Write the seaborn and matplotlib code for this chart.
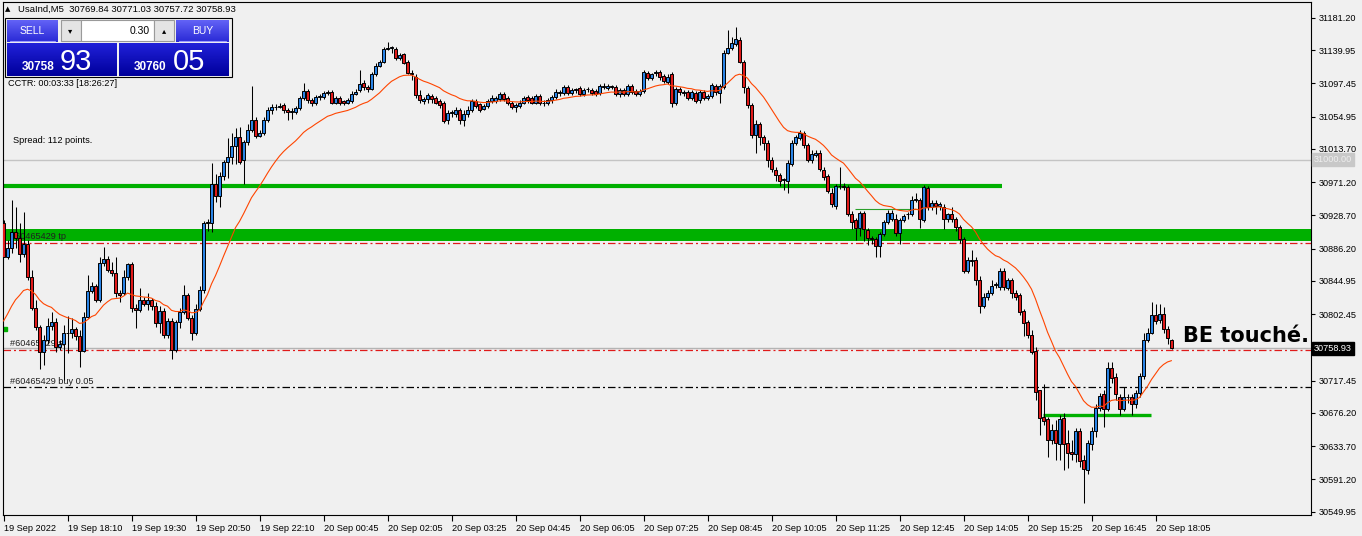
import numpy as np
import pandas as pd
import matplotlib
matplotlib.use("Agg")
import matplotlib.pyplot as plt
import matplotlib.transforms as mtransforms
from matplotlib.patches import Rectangle
from matplotlib.colors import LinearSegmentedColormap
import seaborn as sns

# ---------------- data (UsaInd, M5) ----------------
opens = [
    30919, 30876, 30887, 30907, 30900, 30880, 30892, 30850, 30811, 30786,
    30754, 30770, 30787, 30792, 30761, 30764, 30778, 30778, 30783, 30774,
    30756, 30799, 30832, 30838, 30821, 30868, 30873, 30859, 30855, 30829,
    30829, 30850, 30867, 30811, 30808, 30820, 30816, 30821, 30813, 30791,
    30807, 30776, 30794, 30757, 30792, 30805, 30827, 30798, 30779, 30809,
    30833, 30919, 30919, 30969, 30953, 30979, 30997, 31004, 31017, 31029,
    31000, 31022, 31038, 31051, 31030, 31034, 31051, 31064, 31067, 31067,
    31070, 31064, 31061, 31061, 31066, 31079, 31088, 31076, 31072, 31080,
    31080, 31085, 31086, 31073, 31079, 31075, 31072, 31075, 31084, 31089,
    31098, 31093, 31090, 31110, 31120, 31125, 31141, 31143, 31141, 31130,
    31135, 31125, 31111, 31106, 31083, 31075, 31077, 31081, 31079, 31075,
    31072, 31051, 31060, 31058, 31064, 31051, 31058, 31064, 31075, 31071,
    31065, 31068, 31075, 31075, 31077, 31084, 31079, 31072, 31067, 31068,
    31073, 31080, 31079, 31073, 31081, 31072, 31072, 31076, 31080, 31085,
    31085, 31093, 31085, 31089, 31092, 31084, 31090, 31089, 31088, 31085,
    31093, 31092, 31093, 31093, 31084, 31089, 31084, 31094, 31088, 31084,
    31088, 31111, 31105, 31111, 31112, 31107, 31099, 31110, 31072, 31090,
    31085, 31086, 31079, 31085, 31076, 31086, 31079, 31081, 31094, 31085,
    31093, 31137, 31143, 31148, 31153, 31125, 31092, 31070, 31032, 31046,
    31029, 31021, 31000, 30987, 30981, 30974, 30973, 30995, 31021, 31028,
    31034, 31019, 31000, 31006, 31008, 30987, 30979, 30958, 30941, 30966,
    30966, 30965, 30931, 30923, 30913, 30932, 30910, 30900, 30898, 30889,
    30905, 30920, 30924, 30924, 30906, 30923, 30930, 30931, 30949, 30949,
    30923, 30964, 30940, 30945, 30941, 30940, 30924, 30930, 30924, 30914,
    30898, 30858, 30871, 30872, 30846, 30813, 30824, 30829, 30840, 30837,
    30858, 30836, 30846, 30829, 30827, 30807, 30792, 30776, 30756, 30705,
    30671, 30668, 30642, 30655, 30636, 30670, 30638, 30626, 30624, 30653,
    30616, 30603, 30637, 30653, 30683, 30700, 30681, 30734, 30722, 30697,
    30681, 30696, 30696, 30687, 30702, 30723, 30770, 30779, 30802, 30795,
    30803, 30783, 30769.84,
]
highs = [
    30923, 30897, 30949, 30940, 30919, 30933, 30897, 30859, 30821, 30789,
    30776, 30798, 30805, 30798, 30770, 30789, 30800, 30798, 30786, 30782,
    30805, 30853, 30843, 30841, 30875, 30888, 30877, 30869, 30875, 30833,
    30859, 30868, 30869, 30815, 30836, 30825, 30830, 30823, 30818, 30813,
    30811, 30798, 30798, 30795, 30811, 30840, 30830, 30802, 30815, 30838,
    30922, 30924, 30996, 30982, 30984, 31000, 31028, 31034, 31041, 31042,
    31025, 31045, 31094, 31054, 31038, 31054, 31067, 31071, 31071, 31072,
    31072, 31066, 31066, 31068, 31081, 31098, 31090, 31079, 31083, 31084,
    31088, 31089, 31089, 31081, 31081, 31076, 31079, 31088, 31090, 31115,
    31102, 31096, 31112, 31123, 31128, 31144, 31150, 31145, 31144, 31136,
    31137, 31128, 31115, 31109, 31089, 31080, 31085, 31084, 31081, 31077,
    31075, 31064, 31064, 31067, 31066, 31064, 31068, 31077, 31077, 31073,
    31071, 31077, 31083, 31081, 31086, 31086, 31081, 31075, 31072, 31076,
    31081, 31083, 31081, 31084, 31084, 31076, 31079, 31083, 31090, 31089,
    31096, 31096, 31092, 31092, 31094, 31092, 31093, 31092, 31090, 31097,
    31098, 31097, 31096, 31096, 31092, 31092, 31097, 31097, 31090, 31090,
    31115, 31114, 31111, 31115, 31115, 31110, 31109, 31112, 31093, 31093,
    31089, 31089, 31089, 31088, 31089, 31089, 31084, 31098, 31097, 31097,
    31140, 31166, 31157, 31170, 31157, 31128, 31094, 31072, 31051, 31048,
    31032, 31025, 31003, 30990, 30983, 30977, 31000, 31025, 31032, 31038,
    31037, 31021, 31012, 31012, 31012, 30990, 30982, 30964, 30969, 30991,
    30970, 30968, 30935, 30926, 30935, 30935, 30913, 30902, 30901, 30907,
    30923, 30936, 30936, 30931, 30926, 30931, 30933, 30953, 30957, 30951,
    30968, 30966, 30948, 30948, 30946, 30943, 30932, 30939, 30927, 30917,
    30901, 30875, 30885, 30875, 30851, 30829, 30833, 30846, 30843, 30862,
    30862, 30849, 30849, 30834, 30829, 30809, 30795, 30782, 30761, 30706,
    30713, 30671, 30662, 30667, 30674, 30676, 30654, 30642, 30657, 30657,
    30623, 30642, 30658, 30687, 30702, 30706, 30741, 30741, 30727, 30700,
    30709, 30700, 30701, 30706, 30727, 30778, 30785, 30818, 30815, 30816,
    30812, 30787, 30771.03,
]
lows = [
    30875, 30873, 30881, 30887, 30869, 30875, 30846, 30808, 30782, 30732,
    30738, 30764, 30782, 30754, 30757, 30718, 30753, 30772, 30770, 30735,
    30754, 30798, 30829, 30818, 30818, 30864, 30856, 30851, 30825, 30818,
    30827, 30846, 30805, 30785, 30805, 30813, 30808, 30808, 30786, 30779,
    30772, 30772, 30745, 30754, 30785, 30803, 30795, 30770, 30776, 30807,
    30830, 30909, 30907, 30946, 30940, 30974, 30977, 30994, 30994, 30994,
    30969, 31019, 31035, 31028, 31029, 31032, 31048, 31058, 31064, 31066,
    31060, 31051, 31052, 31059, 31064, 31076, 31073, 31068, 31070, 31076,
    31077, 31083, 31071, 31071, 31070, 31070, 31071, 31073, 31083, 31086,
    31089, 31086, 31089, 31107, 31118, 31123, 31140, 31137, 31128, 31128,
    31122, 31109, 31102, 31079, 31072, 31071, 31073, 31073, 31071, 31066,
    31047, 31046, 31054, 31054, 31046, 31043, 31055, 31061, 31066, 31061,
    31063, 31066, 31072, 31072, 31075, 31075, 31070, 31065, 31061, 31066,
    31071, 31073, 31071, 31071, 31070, 31068, 31070, 31073, 31077, 31081,
    31083, 31083, 31083, 31085, 31081, 31081, 31086, 31083, 31081, 31083,
    31090, 31089, 31090, 31081, 31080, 31081, 31081, 31084, 31081, 31081,
    31085, 31102, 31102, 31107, 31102, 31098, 31097, 31067, 31070, 31083,
    31081, 31076, 31076, 31072, 31073, 31076, 31076, 31079, 31083, 31073,
    31090, 31135, 31140, 31145, 31123, 31085, 31066, 31028, 31009, 31019,
    31012, 30990, 30984, 30973, 30966, 30961, 30958, 30992, 31019, 31025,
    31015, 30997, 30996, 31003, 30986, 30974, 30957, 30940, 30937, 30962,
    30961, 30928, 30911, 30897, 30902, 30896, 30891, 30892, 30875, 30875,
    30902, 30918, 30922, 30902, 30892, 30920, 30924, 30928, 30946, 30913,
    30920, 30936, 30936, 30931, 30936, 30911, 30920, 30920, 30909, 30894,
    30855, 30855, 30864, 30840, 30804, 30811, 30821, 30827, 30836, 30834,
    30833, 30833, 30823, 30821, 30802, 30774, 30772, 30751, 30693, 30648,
    30661, 30620, 30636, 30616, 30616, 30603, 30606, 30616, 30613, 30607,
    30561, 30598, 30629, 30646, 30679, 30658, 30679, 30714, 30693, 30674,
    30679, 30689, 30674, 30683, 30697, 30719, 30767, 30777, 30790, 30791,
    30779, 30764, 30757.72,
]
closes = [
    30876, 30887, 30907, 30900, 30880, 30892, 30850, 30811, 30786, 30754,
    30770, 30787, 30792, 30761, 30764, 30778, 30778, 30783, 30774, 30756,
    30799, 30832, 30838, 30821, 30868, 30873, 30859, 30855, 30829, 30827,
    30850, 30867, 30811, 30808, 30820, 30816, 30821, 30813, 30791, 30807,
    30776, 30794, 30757, 30792, 30805, 30827, 30798, 30779, 30809, 30833,
    30919, 30919, 30969, 30953, 30979, 30997, 31004, 31017, 31029, 30997,
    31022, 31038, 31051, 31030, 31034, 31051, 31064, 31067, 31067, 31068,
    31064, 31061, 31061, 31066, 31079, 31088, 31076, 31072, 31080, 31080,
    31085, 31086, 31073, 31079, 31072, 31072, 31076, 31084, 31086, 31097,
    31093, 31090, 31110, 31120, 31125, 31141, 31143, 31143, 31130, 31134,
    31124, 31111, 31109, 31083, 31076, 31077, 31083, 31077, 31073, 31070,
    31050, 31060, 31060, 31064, 31051, 31059, 31064, 31075, 31068, 31064,
    31068, 31075, 31079, 31079, 31084, 31077, 31072, 31067, 31070, 31073,
    31079, 31076, 31073, 31081, 31072, 31072, 31076, 31080, 31086, 31085,
    31093, 31085, 31089, 31089, 31084, 31089, 31090, 31085, 31084, 31094,
    31093, 31094, 31093, 31084, 31089, 31084, 31094, 31086, 31084, 31088,
    31112, 31105, 31109, 31111, 31106, 31101, 31106, 31072, 31090, 31086,
    31085, 31079, 31086, 31075, 31086, 31079, 31081, 31096, 31086, 31094,
    31137, 31143, 31149, 31154, 31125, 31093, 31070, 31032, 31046, 31029,
    31021, 31000, 30988, 30981, 30973, 30974, 30996, 31021, 31029, 31034,
    31019, 31000, 31007, 31008, 30988, 30978, 30960, 30943, 30966, 30966,
    30965, 30931, 30920, 30913, 30932, 30911, 30900, 30898, 30889, 30905,
    30920, 30932, 30932, 30906, 30923, 30928, 30930, 30949, 30949, 30924,
    30965, 30939, 30945, 30941, 30943, 30924, 30930, 30924, 30914, 30898,
    30858, 30872, 30871, 30846, 30813, 30825, 30829, 30838, 30840, 30858,
    30837, 30846, 30829, 30825, 30805, 30791, 30776, 30754, 30703, 30670,
    30666, 30642, 30655, 30638, 30668, 30637, 30625, 30624, 30653, 30615,
    30604, 30638, 30653, 30683, 30698, 30681, 30734, 30721, 30700, 30681,
    30697, 30696, 30687, 30702, 30723, 30770, 30779, 30802, 30794, 30803,
    30783, 30772, 30758.93,
]
time_labels = [
    "19 Sep 2022", "19 Sep 18:10", "19 Sep 19:30", "19 Sep 20:50", "19 Sep 22:10",
    "20 Sep 00:45", "20 Sep 02:05", "20 Sep 03:25", "20 Sep 04:45", "20 Sep 06:05",
    "20 Sep 07:25", "20 Sep 08:45", "20 Sep 10:05", "20 Sep 11:25", "20 Sep 12:45",
    "20 Sep 14:05", "20 Sep 15:25", "20 Sep 16:45", "20 Sep 18:05",
]
price_ticks = [31181.20, 31139.95, 31097.45, 31054.95, 31013.70, 30971.20, 30928.70,
               30886.20, 30844.95, 30802.45, 30717.45, 30676.20, 30633.70, 30591.20,
               30549.95]
price_tick_labels = ["31181.20", "31139.95", "31097.45", "31054.95", "31013.70",
                     "30971.20", "30928.70", "30886.20", "30844.95", "30802.45",
                     "30717.45", "30676.20", "30633.70", "30591.20", "30549.95"]

bid_price = 30758.93
round_level = 31000.00
ma_period = 20
ma_seed = 30785.0
resistance_level = 30966
resistance_end_bar = 249.6
zone_low, zone_high = 30896, 30911
tp_level = 30894
sl_level = 30758
entry_level = 30709
support_level = 30673
support_bars = (259.9, 286.8)
mid_level = 30937
mid_bars = (212.9, 228.6)
marker_level = 30783

# ---------------- style ----------------
sns.set_theme(style="white")
plt.rcParams["font.family"] = ["Liberation Sans", "DejaVu Sans"]
BG = "#f0f0f0"
GREEN = "#00b000"
RED = "#e01a1a"
BLUE = "#2a84e6"
SMALL = 6.6

W, H = 1362, 536
fig = plt.figure(figsize=(W / 100, H / 100), dpi=100, facecolor=BG)
ax = fig.add_axes([2.5 / W, (H - 515) / H, (1311 - 2.5) / W, (515 - 2) / H])
ax.set_facecolor(BG)

o = np.array(opens, float)
h = np.array(highs, float)
l = np.array(lows, float)
c = np.array(closes, float)
n = len(c)
idx = np.arange(n)
h = np.maximum(h, np.maximum(o, c))
l = np.minimum(l, np.minimum(o, c))

# background objects
ax.axhline(round_level, color="#c4c4c4", lw=1.0, zorder=1)
ax.axhspan(zone_low, zone_high, color=GREEN, lw=0, zorder=1.3)
ax.hlines(resistance_level, -0.25, resistance_end_bar, color=GREEN, lw=3.0, zorder=1.3)
ax.hlines(support_level, support_bars[0], support_bars[1], color=GREEN, lw=2.4, zorder=1.3)
ax.hlines(mid_level, mid_bars[0], mid_bars[1], color="#2aa02a", lw=0.8, zorder=1.3)
ax.axhline(bid_price, color="#b4b4b4", lw=1.0, zorder=1.2)
dashdot = (0, (6, 2.4, 1.6, 2.4))
ax.axhline(tp_level, color=RED, lw=0.9, ls=dashdot, zorder=1.6)
ax.axhline(sl_level - 0.8, color=RED, lw=0.9, ls=dashdot, zorder=1.6)
ax.axhline(entry_level, color="black", lw=0.9, ls=dashdot, zorder=1.6)
ax.plot([0.3], [marker_level], marker="s", ms=3.0, color=GREEN, zorder=1.6)

ytr = ax.get_yaxis_transform()
ax.text(0.0057, tp_level + 4, "#60465429 tp", transform=ytr, fontsize=SMALL,
        va="baseline", ha="left", color="#202020", zorder=1.7)
ax.text(0.0057, sl_level + 4, "#60465429 sl", transform=ytr, fontsize=SMALL,
        va="baseline", ha="left", color="#202020", zorder=1.7)
ax.text(0.0057, entry_level + 4, "#60465429 buy 0.05", transform=ytr, fontsize=SMALL,
        va="baseline", ha="left", color="#202020", zorder=1.7)

# candles
ax.vlines(idx, l, h, color="black", lw=0.75, zorder=3)
body_bot = np.minimum(o, c)
body_h = np.maximum(np.abs(c - o), 0.9)
up = c >= o
ax.bar(idx[up], body_h[up], bottom=body_bot[up], width=0.58, color=BLUE,
       edgecolor="black", linewidth=0.7, zorder=4)
ax.bar(idx[~up], body_h[~up], bottom=body_bot[~up], width=0.58, color=RED,
       edgecolor="black", linewidth=0.7, zorder=4)

# moving average (EMA 20 on closes)
alpha = 2.0 / (ma_period + 1)
ema = []
prev = ma_seed
for v in c:
    prev = prev + alpha * (v - prev)
    ema.append(prev)
ma_df = pd.DataFrame({"bar": idx, "ma": ema})
sns.lineplot(data=ma_df, x="bar", y="ma", ax=ax, color="#ff4500", lw=0.8, zorder=5)

# axes
ax.set_xlim(-0.25, 326.875)
ax.set_ylim(30545.7, 31201.6)
ax.set_xlabel("")
ax.set_ylabel("")
ax.yaxis.tick_right()
ax.set_yticks(price_ticks)
ax.set_yticklabels(price_tick_labels)
ax.tick_params(axis="y", direction="out", length=3, width=0.8, pad=2.5,
               labelsize=SMALL, colors="black", right=True, left=False)
ax.set_xticks(np.arange(0, n, 16))
ax.set_xticklabels(time_labels, ha="left")
ax.tick_params(axis="x", direction="out", length=4, width=0.8, pad=2.5,
               labelsize=SMALL, colors="black", bottom=True)
off = mtransforms.ScaledTranslation(1.0 / 100, 0, fig.dpi_scale_trans)
for lab in ax.get_xticklabels():
    lab.set_transform(lab.get_transform() + off)
for sp in ax.spines.values():
    sp.set_visible(True)
    sp.set_color("black")
    sp.set_linewidth(0.8)
ax.grid(False)

ax.text(1.002, bid_price, "30758.93", transform=ytr, fontsize=SMALL, color="white",
        va="center", ha="left", zorder=10, clip_on=False,
        bbox=dict(boxstyle="square,pad=0.22", fc="black", ec="black"))
ax.text(1.002, round_level, "31000.00", transform=ytr, fontsize=SMALL, color="#eeeeee",
        va="center", ha="left", zorder=10, clip_on=False,
        bbox=dict(boxstyle="square,pad=0.22", fc="#c8c8c8", ec="#c8c8c8"))

# ---------------- overlay (pixel coordinates) ----------------
ov = fig.add_axes([0, 0, 1, 1], zorder=20)
ov.set_xlim(0, W)
ov.set_ylim(H, 0)
ov.axis("off")


def grad(x0, y0, x1, y1, top, bot):
    cmap = LinearSegmentedColormap.from_list("g", [top, bot])
    ov.imshow(np.linspace(0, 1, 32).reshape(-1, 1), extent=[x0, x1, y1, y0],
              cmap=cmap, aspect="auto", interpolation="bilinear", zorder=21)


ov.text(5, 9.5, "▲", fontsize=5, va="center", ha="left", color="black",
        family=["DejaVu Sans"])
ov.text(18, 9.5, "UsaInd,M5  30769.84 30771.03 30757.72 30758.93", fontsize=6.8,
        va="center", ha="left", color="black")

ov.add_patch(Rectangle((5, 18), 227, 59, fc=BG, ec="black", lw=0.8, zorder=20.5))
grad(7, 20, 58, 42, "#6262f6", "#2a2ad6")
grad(176, 20, 229, 42, "#6262f6", "#2a2ad6")
grad(7, 43, 117, 76, "#2020d8", "#00009c")
grad(119, 43, 229, 76, "#2020d8", "#00009c")
ov.plot([10, 55], [40.5, 40.5], color="#9a9aff", lw=0.8, zorder=22)
ov.plot([179, 226], [40.5, 40.5], color="#9a9aff", lw=0.8, zorder=22)
ov.add_patch(Rectangle((61, 20), 20, 21, fc="#e4e4e4", ec="#9a9a9a", lw=0.8, zorder=21))
ov.add_patch(Rectangle((81, 20), 73, 21, fc="white", ec="#9a9a9a", lw=0.8, zorder=21))
ov.add_patch(Rectangle((154, 20), 20, 21, fc="#e4e4e4", ec="#9a9a9a", lw=0.8, zorder=21))
ov.text(70.5, 30.5, "▾", fontsize=6, va="center", ha="center", color="black",
        family=["DejaVu Sans"], zorder=22)
ov.text(164, 30.5, "▴", fontsize=6, va="center", ha="center", color="black",
        family=["DejaVu Sans"], zorder=22)
ov.text(150, 30.5, "0.30", fontsize=7.5, va="center", ha="right", color="black", zorder=22)
ov.text(32.5, 30.5, "SELL", fontsize=7.5, va="center", ha="center", color="white", zorder=22)
ov.text(202.5, 30.5, "BUY", fontsize=7.5, va="center", ha="center", color="white", zorder=22)
ov.text(22, 69.5, "30758", fontsize=8.5, fontweight="bold", va="baseline", ha="left",
        color="white", zorder=22)
ov.text(60, 69.5, "93", fontsize=21, va="baseline", ha="left", color="white", zorder=22)
ov.text(134, 69.5, "30760", fontsize=8.5, fontweight="bold", va="baseline", ha="left",
        color="white", zorder=22)
ov.text(173, 69.5, "05", fontsize=21, va="baseline", ha="left", color="white", zorder=22)

ov.text(7.5, 83.5, "CCTR: 00:03:33 [18:26:27]", fontsize=SMALL, va="center", ha="left",
        color="black")
ov.text(13, 140.5, "Spread: 112 points.", fontsize=SMALL, va="center", ha="left",
        color="black")
ov.text(1183, 342.5, "BE touché.", fontsize=15, fontweight="bold", va="baseline",
        ha="left", color="black", family=["DejaVu Sans"])

fig.savefig("out.png", dpi=100, facecolor=BG)
